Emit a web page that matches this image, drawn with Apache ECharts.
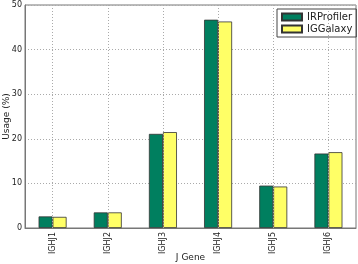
<!DOCTYPE html>
<html><head><meta charset="utf-8">
<script src="https://cdn.jsdelivr.net/npm/echarts@6/dist/echarts.min.js"></script>
<style>html,body{margin:0;padding:0;background:#fff}#c{width:358px;height:264px}</style>
</head><body><div id="c"></div>
<script>
const categories = ['IGHJ1','IGHJ2','IGHJ3','IGHJ4','IGHJ5','IGHJ6'];
const irProfiler = [2.6, 3.5, 21.1, 46.7, 9.5, 16.7];
const igGalaxy = [2.5, 3.5, 21.5, 46.3, 9.3, 17.0];
const yTicks = [0, 10, 20, 30, 40, 50];

const chart = echarts.init(document.getElementById('c'), null, {renderer: 'canvas'});
const font = 'DejaVu Sans';
const gridDot = {type: [1, 2], color: '#aaa', width: 1};
chart.setOption({
  animation: false,
  textStyle: {fontFamily: font},
  grid: {left: 25, right: 2, top: 5, bottom: 36, show: true, borderColor: '#777', borderWidth: 1,
         outerBoundsMode: 'none', containLabel: false},
  legend: {
    orient: 'vertical', left: 277, top: 9,
    itemWidth: 20, itemHeight: 7, itemGap: 2,
    padding: [3, 4, 3, 4],
    borderColor: '#444', borderWidth: 1,
    icon: 'rect',
    textStyle: {fontFamily: font, fontSize: 10, color: '#222'},
    data: ['IRProfiler', 'IGGalaxy']
  },
  xAxis: {
    type: 'category', data: categories,
    name: 'J Gene', nameLocation: 'middle', nameGap: 25, nameMoveOverlap: false,
    nameTextStyle: {fontFamily: font, fontSize: 9, color: '#222'},
    axisLine: {lineStyle: {color: '#777', width: 1}},
    axisTick: {show: false},
    axisLabel: {rotate: 90, fontSize: 8, color: '#222', margin: 4, fontFamily: font},
    splitLine: {show: false}
  },
  yAxis: {
    type: 'value', min: yTicks[0], max: yTicks[yTicks.length - 1], interval: 10,
    name: 'Usage (%)', nameLocation: 'middle', nameGap: 14, nameMoveOverlap: false,
    nameTextStyle: {fontFamily: font, fontSize: 9, color: '#222'},
    axisLine: {show: true, lineStyle: {color: '#777', width: 1}},
    axisTick: {show: false},
    axisLabel: {fontSize: 8, color: '#222', margin: 3, fontFamily: font},
    splitLine: {show: true, lineStyle: gridDot}
  },
  series: [
    {name: 'IRProfiler', type: 'bar', data: irProfiler, barWidth: 14, barGap: '0%', z: 3,
     itemStyle: {color: '#007f5f', borderColor: '#333', borderWidth: 0.8}},
    {name: 'IGGalaxy', type: 'bar', data: igGalaxy, barWidth: 14, barGap: '0%', z: 3,
     itemStyle: {color: '#ffff66', borderColor: '#333', borderWidth: 0.8}},
    {name: 'vgrid', type: 'line', data: [], z: 1, silent: true,
     markLine: {silent: true, symbol: ['none', 'none'], label: {show: false},
       lineStyle: gridDot, animation: false,
       data: categories.map(c => ({xAxis: c}))}}
  ]
});
</script></body></html>
